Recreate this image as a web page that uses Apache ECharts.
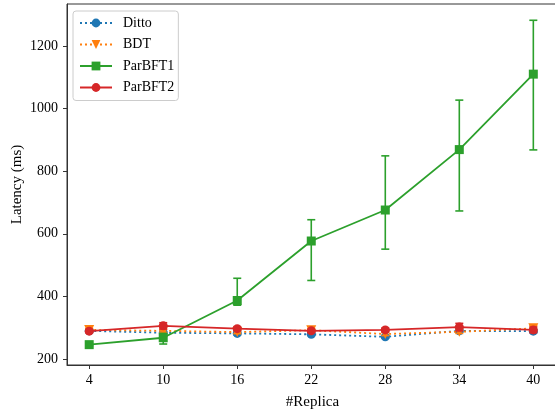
<!DOCTYPE html>
<html>
<head>
<meta charset="utf-8">
<script src="https://cdn.jsdelivr.net/npm/echarts@6/dist/echarts.min.js"></script>
<style>html,body{margin:0;padding:0;background:#fff}#c{width:555px;height:412px}</style>
</head>
<body>
<div id="c"></div>
<script>
var replicas = [4, 10, 16, 22, 28, 34, 40];
var yTicks = [200, 400, 600, 800, 1000, 1200];

var ditto = [290, 284, 282, 279, 271, 290, 289];
var dittoLow = [286, 280, 278, 275, 267, 286, 285];
var dittoHigh = [294, 288, 286, 283, 275, 294, 293];

var bdt = [293, 290, 286, 292, 280, 287, 298];
var bdtLow = [288, 285, 281, 287, 275, 282, 291];
var bdtHigh = [298, 295, 291, 297, 285, 292, 306];

var parbft1 = [246, 268, 387, 577, 676, 869, 1110];
var parbft1Low = [242, 248, 372, 451, 551, 673, 868];
var parbft1High = [250, 282, 458, 645, 849, 1027, 1282];

var parbft2 = [289, 306, 297, 290, 293, 302, 293];
var parbft2Low = [284, 296, 291, 285, 287, 290, 284];
var parbft2High = [294, 316, 303, 295, 299, 314, 302];

var FONT = 'Liberation Serif';

function pairs(xs, ys) { return xs.map(function (x, i) { return [x, ys[i]]; }); }
function triples(xs, lo, hi) { return xs.map(function (x, i) { return [x, lo[i], hi[i]]; }); }

function errSeries(name, color, xs, lo, hi, z) {
  return {
    name: name + ' err',
    type: 'custom',
    z: z,
    data: triples(xs, lo, hi),
    encode: { x: 0, y: [1, 2] },
    renderItem: function (params, api) {
      var x = api.value(0);
      var p1 = api.coord([x, api.value(1)]);
      var p2 = api.coord([x, api.value(2)]);
      var w = 4;
      var st = { stroke: color, lineWidth: 1.6 };
      return {
        type: 'group',
        children: [
          { type: 'line', shape: { x1: p1[0], y1: p1[1], x2: p2[0], y2: p2[1] }, style: st },
          { type: 'line', shape: { x1: p1[0] - w, y1: p1[1], x2: p1[0] + w, y2: p1[1] }, style: st },
          { type: 'line', shape: { x1: p2[0] - w, y1: p2[1], x2: p2[0] + w, y2: p2[1] }, style: st }
        ]
      };
    }
  };
}

function lineSeries(name, color, ys, symbol, size, dashed, z) {
  return {
    name: name,
    type: 'line',
    z: z,
    data: pairs(replicas, ys),
    symbol: symbol,
    symbolSize: size,
    symbolRotate: symbol === 'triangle' ? 180 : 0,
    showSymbol: true,
    color: color,
    lineStyle: { color: color, width: 1.8, type: dashed ? [2, 3] : 'solid' },
    itemStyle: { color: color, borderWidth: 0 },
    emphasis: { disabled: true },
    animation: false
  };
}

var C1 = '#1f77b4', C2 = '#ff7f0e', C3 = '#2ca02c', C4 = '#d62728';

var chart = echarts.init(document.getElementById('c'), null, { renderer: 'canvas' });
chart.setOption({
  animation: false,
  textStyle: { fontFamily: FONT },
  grid: {
    left: 67, right: -3, top: 4, bottom: 47,
    outerBoundsMode: 'none', containLabel: false,
    show: true, borderColor: '#333', borderWidth: 1, backgroundColor: 'transparent'
  },
  legend: {
    orient: 'vertical',
    left: 73, top: 11,
    data: ['Ditto', 'BDT', 'ParBFT1', 'ParBFT2'],
    itemWidth: 32, itemHeight: 11, itemGap: 7.5,
    padding: [5, 4, 6, 6],
    borderColor: '#cccccc', borderWidth: 1, borderRadius: 3,
    backgroundColor: 'rgba(255,255,255,0.8)',
    textStyle: { fontFamily: FONT, fontSize: 14, lineHeight: 14, color: '#000', padding: [0, 0, 0, 6] }
  },
  xAxis: {
    type: 'value', min: 2.2, max: 42.0,
    name: '#Replica', nameLocation: 'middle', nameGap: 30, nameMoveOverlap: false,
    nameTextStyle: { fontFamily: FONT, fontSize: 15, color: '#000' },
    splitLine: { show: false },
    axisLine: { show: true, onZero: false, lineStyle: { color: '#333', width: 1 } },
    axisTick: { show: true, length: 4, inside: false, customValues: replicas, lineStyle: { color: '#333' } },
    axisLabel: { customValues: replicas, formatter: function (v) { return String(v); }, fontFamily: FONT, fontSize: 14, color: '#000', margin: 8 }
  },
  yAxis: {
    type: 'value', min: 181, max: 1334,
    name: 'Latency (ms)', nameLocation: 'middle', nameGap: 42, nameMoveOverlap: false,
    nameTextStyle: { fontFamily: FONT, fontSize: 15, color: '#000' },
    splitLine: { show: false },
    axisLine: { show: true, onZero: false, lineStyle: { color: '#333', width: 1 } },
    axisTick: { show: true, length: 4, inside: false, customValues: yTicks, lineStyle: { color: '#333' } },
    axisLabel: { customValues: yTicks, formatter: function (v) { return String(v); }, fontFamily: FONT, fontSize: 14, color: '#000', margin: 9 }
  },
  series: [
    errSeries('Ditto', C1, replicas, dittoLow, dittoHigh, 2),
    lineSeries('Ditto', C1, ditto, 'circle', 9, true, 3),
    errSeries('BDT', C2, replicas, bdtLow, bdtHigh, 4),
    lineSeries('BDT', C2, bdt, 'triangle', 10, true, 5),
    errSeries('ParBFT1', C3, replicas, parbft1Low, parbft1High, 6),
    lineSeries('ParBFT1', C3, parbft1, 'rect', 9, false, 7),
    errSeries('ParBFT2', C4, replicas, parbft2Low, parbft2High, 8),
    lineSeries('ParBFT2', C4, parbft2, 'circle', 9, false, 9)
  ]
});
</script>
</body>
</html>
